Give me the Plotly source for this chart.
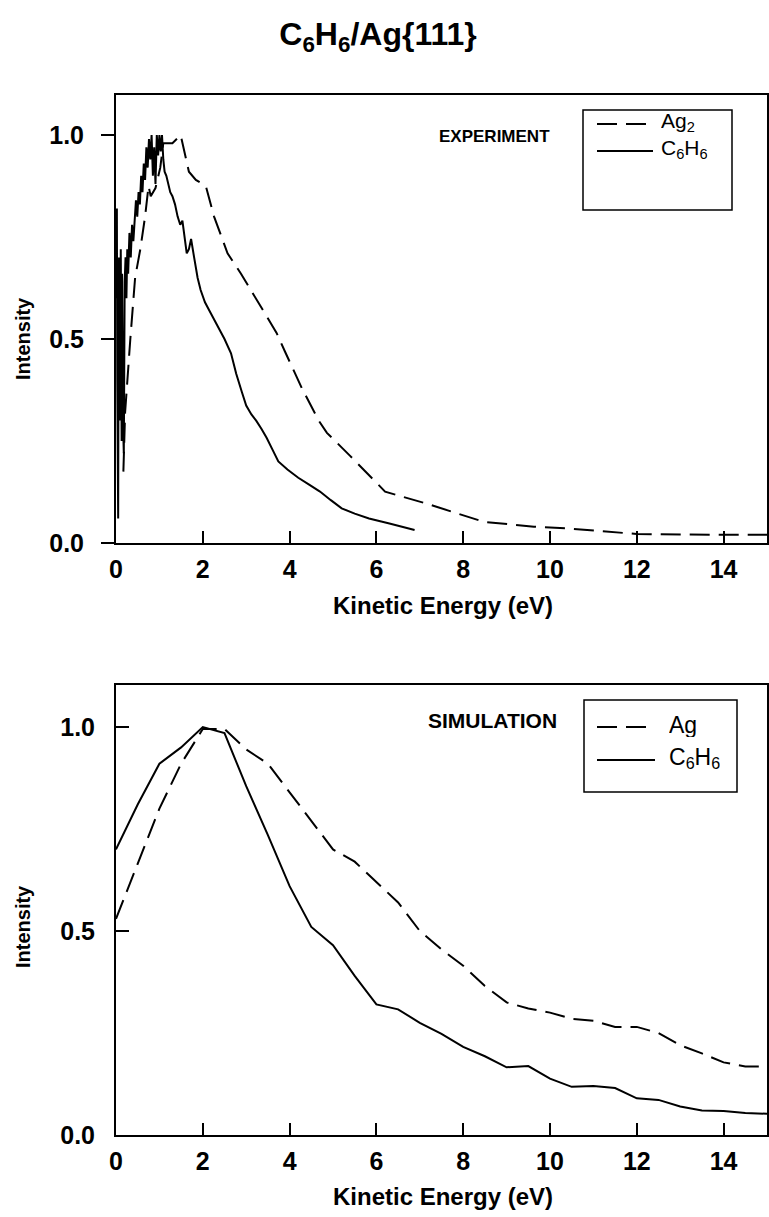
import plotly.graph_objects as go

# ---------------- data ----------------
# Experiment (top panel)
exp_c6h6_energy = [0.00, 0.02, 0.03, 0.05, 0.06, 0.07, 0.09, 0.10, 0.11, 0.13, 0.14, 0.16, 0.18, 0.20,
                   0.22, 0.24, 0.26, 0.28, 0.31, 0.34, 0.37, 0.40, 0.43, 0.46, 0.49, 0.52, 0.55, 0.58,
                   0.61, 0.64, 0.67, 0.70, 0.73, 0.76, 0.79, 0.82, 0.85, 0.88, 0.91, 0.94, 0.97, 1.00,
                   1.03, 1.06, 1.09, 1.12, 1.16, 1.20, 1.25, 1.30, 1.36, 1.42, 1.48, 1.53, 1.58, 1.63,
                   1.68, 1.73, 1.80, 1.88, 1.95, 2.05, 2.15, 2.25, 2.35, 2.50, 2.65, 2.77, 2.90, 3.00,
                   3.12, 3.23, 3.35, 3.47, 3.60, 3.74, 3.95, 4.20, 4.45, 4.70, 4.95, 5.20, 5.50, 5.83,
                   6.30, 6.88]
exp_c6h6_intensity = [0.60, 0.82, 0.40, 0.06, 0.55, 0.70, 0.30, 0.62, 0.72, 0.25, 0.66, 0.30, 0.22, 0.64,
                      0.70, 0.60, 0.72, 0.66, 0.76, 0.70, 0.78, 0.74, 0.80, 0.84, 0.80, 0.86, 0.83, 0.90,
                      0.86, 0.93, 0.89, 0.97, 0.92, 0.99, 0.94, 1.00, 0.90, 0.97, 0.88, 1.00, 0.95, 1.00,
                      0.96, 1.00, 0.94, 0.91, 0.90, 0.88, 0.86, 0.85, 0.83, 0.80, 0.78, 0.79, 0.75, 0.71,
                      0.72, 0.745, 0.70, 0.65, 0.62, 0.59, 0.57, 0.55, 0.53, 0.50, 0.465, 0.415, 0.37, 0.337,
                      0.315, 0.30, 0.28, 0.258, 0.23, 0.20, 0.18, 0.16, 0.143, 0.126, 0.105, 0.085, 0.072, 0.06,
                      0.048, 0.032]

exp_ag2_energy = [0.17, 0.21, 0.33, 0.44, 0.56, 0.67, 0.75, 0.80, 0.91, 1.02, 1.09, 1.30, 1.49, 1.68,
                  1.84, 2.07, 2.26, 2.57, 2.88, 3.40, 3.70, 3.89, 4.28, 4.67, 4.86, 5.40, 6.20, 6.45,
                  7.14, 8.47, 9.63, 10.5, 12.0, 14.0, 15.0]
exp_ag2_intensity = [0.175, 0.32, 0.50, 0.65, 0.72, 0.80, 0.875, 0.85, 0.87, 0.92, 0.98, 0.98, 1.00, 0.91,
                     0.89, 0.875, 0.80, 0.71, 0.66, 0.567, 0.515, 0.47, 0.38, 0.30, 0.27, 0.213, 0.126, 0.118,
                     0.097, 0.052, 0.04, 0.035, 0.022, 0.02, 0.02]

# Simulation (bottom panel)
sim_energy = [0.0, 0.5, 1.0, 1.5, 2.0, 2.5, 3.0, 3.5, 4.0, 4.5, 5.0, 5.5, 6.0, 6.5, 7.0, 7.5,
              8.0, 8.5, 9.0, 9.5, 10.0, 10.5, 11.0, 11.5, 12.0, 12.5, 13.0, 13.5, 14.0, 14.5, 15.0]
sim_c6h6_intensity = [0.70, 0.81, 0.91, 0.95, 1.00, 0.985, 0.855, 0.735, 0.61, 0.51, 0.465, 0.39, 0.32,
                      0.308, 0.275, 0.248, 0.216, 0.193, 0.166, 0.169, 0.138, 0.118, 0.12, 0.115, 0.09,
                      0.086, 0.07, 0.06, 0.059, 0.054, 0.052]
sim_ag_intensity = [0.53, 0.665, 0.80, 0.91, 0.995, 0.995, 0.945, 0.91, 0.84, 0.77, 0.70, 0.67, 0.62,
                    0.57, 0.50, 0.455, 0.415, 0.365, 0.325, 0.31, 0.30, 0.285, 0.28, 0.265, 0.265, 0.25,
                    0.22, 0.20, 0.178, 0.168, 0.168]

x_tick_vals = [0, 2, 4, 6, 8, 10, 12, 14]
x_tick_text = ["0", "2", "4", "6", "8", "10", "12", "14"]
y_tick_vals = [0.0, 0.5, 1.0]
y_tick_text = ["0.0", "0.5", "1.0"]

title_text = "C<sub>6</sub>H<sub>6</sub>/Ag{111}"
x_title = "Kinetic Energy (eV)"
y_title = "Intensity"

# ---------------- layout geometry ----------------
W, H = 769, 1217
L, R, T, B = 116, 767, 95, 1135   # plot area in pixels


def pxx(x):
    return (x - L) / (R - L)


def pxy(y):
    return (B - y) / (B - T)


FONT = "Liberation Sans, Arial, sans-serif"
DASH = "20px,9px"

fig = go.Figure()

fig.add_trace(go.Scatter(x=exp_ag2_energy, y=exp_ag2_intensity, mode="lines", name="Ag<sub>2</sub>",
                         line=dict(color="black", width=2, dash=DASH), xaxis="x", yaxis="y",
                         showlegend=False))
fig.add_trace(go.Scatter(x=exp_c6h6_energy, y=exp_c6h6_intensity, mode="lines",
                         name="C<sub>6</sub>H<sub>6</sub>",
                         line=dict(color="black", width=2), xaxis="x", yaxis="y", showlegend=False))
fig.add_trace(go.Scatter(x=sim_energy, y=sim_ag_intensity, mode="lines", name="Ag",
                         line=dict(color="black", width=2, dash=DASH), xaxis="x2", yaxis="y2",
                         showlegend=False))
fig.add_trace(go.Scatter(x=sim_energy, y=sim_c6h6_intensity, mode="lines",
                         name="C<sub>6</sub>H<sub>6</sub>",
                         line=dict(color="black", width=2), xaxis="x2", yaxis="y2", showlegend=False))

top_dom = [pxy(543), 1.0]
bot_dom = [0.0, pxy(685)]

tickfont = dict(family=FONT, size=25, color="black", weight="bold")

common_x = dict(range=[0, 15], tickvals=x_tick_vals, ticktext=x_tick_text, showgrid=False,
                zeroline=False, showline=True, linecolor="black", linewidth=2, mirror=True,
                ticks="inside", ticklen=12, tickwidth=1.5, tickcolor="black", tickfont=tickfont,
                ticklabelstandoff=3)
common_y = dict(tickvals=y_tick_vals, ticktext=y_tick_text, showgrid=False,
                zeroline=False, showline=True, linecolor="black", linewidth=2, mirror=True,
                ticklen=13, tickwidth=1.5, tickcolor="black", tickfont=tickfont)

fig.update_layout(
    width=W, height=H,
    margin=dict(l=L, r=W - R, t=T, b=H - B, autoexpand=False),
    paper_bgcolor="white", plot_bgcolor="white",
    showlegend=False,
    title=dict(text=title_text, x=pxx(436), xanchor="center", y=1 - 34 / H, yanchor="middle",
               font=dict(family=FONT, size=32, color="black", weight="bold")),
    xaxis=dict(domain=[0, 1], anchor="y", **common_x),
    yaxis=dict(domain=top_dom, anchor="x", range=[0, 1.098], ticks="outside", ticklabelstandoff=12,
               **common_y),
    xaxis2=dict(domain=[0, 1], anchor="y2", **common_x),
    yaxis2=dict(domain=bot_dom, anchor="x2", range=[0, 1.103], ticks="inside", ticklabelstandoff=14,
                **common_y),
)

# ---------------- axis titles ----------------
for cy in (339, 927):
    fig.add_annotation(text="<b>" + y_title + "</b>", xref="paper", yref="paper", x=pxx(23), y=pxy(cy),
                       xanchor="center", yanchor="middle", textangle=-90, showarrow=False,
                       font=dict(family=FONT, size=20, color="black"))
for cy in (605, 1196):
    fig.add_annotation(text="<b>" + x_title + "</b>", xref="paper", yref="paper", x=pxx(443), y=pxy(cy),
                       xanchor="center", yanchor="middle", showarrow=False,
                       font=dict(family=FONT, size=24, color="black"))

# ---------------- panel labels ----------------
fig.add_annotation(text="<b>EXPERIMENT</b>", xref="paper", yref="paper", x=pxx(494), y=pxy(137),
                   xanchor="center", yanchor="middle", showarrow=False,
                   font=dict(family=FONT, size=17, color="black"))
fig.add_annotation(text="<b>SIMULATION</b>", xref="paper", yref="paper", x=pxx(492), y=pxy(720),
                   xanchor="center", yanchor="middle", showarrow=False,
                   font=dict(family=FONT, size=21, color="black"))

# ---------------- legends (boxed keys) ----------------
legend_specs = [
    ((583, 110, 732, 210), [("Ag<sub>2</sub>", DASH, 124), ("C<sub>6</sub>H<sub>6</sub>", "solid", 151)],
     597, 653, 659, 21),
    ((584, 700, 737, 792), [("Ag", DASH, 727), ("C<sub>6</sub>H<sub>6</sub>", "solid", 760)],
     597, 655, 667, 23),
]
for box, entries, sx0, sx1, tx, fsize in legend_specs:
    fig.add_shape(type="rect", xref="paper", yref="paper",
                  x0=pxx(box[0]), y0=pxy(box[1]), x1=pxx(box[2]), y1=pxy(box[3]),
                  line=dict(color="black", width=1.5), fillcolor="white")
    for label, dash, yy in entries:
        fig.add_shape(type="line", xref="paper", yref="paper",
                      x0=pxx(sx0), x1=pxx(sx1), y0=pxy(yy), y1=pxy(yy),
                      line=dict(color="black", width=2, dash=dash))
        fig.add_annotation(text=label, xref="paper", yref="paper", x=pxx(tx), y=pxy(yy - 2),
                           xanchor="left", yanchor="middle", showarrow=False, height=24,
                           font=dict(family=FONT, size=fsize, color="black"))

fig.write_html("out.html", config={"displayModeBar": False},
               post_script="document.body.style.margin='0px';document.body.style.overflow='hidden';")
